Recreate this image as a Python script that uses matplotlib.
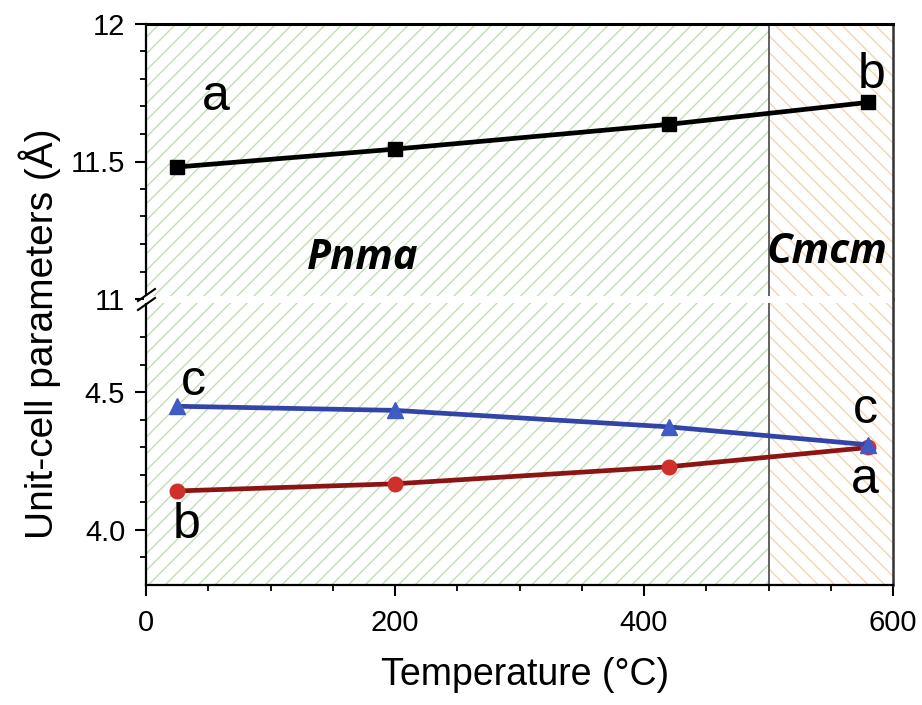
import matplotlib
matplotlib.use("Agg")
import matplotlib.pyplot as plt
from matplotlib.lines import Line2D
from matplotlib.patches import Rectangle
from matplotlib.ticker import FixedLocator, MultipleLocator

plt.rcParams['font.family'] = ['Liberation Sans', 'DejaVu Sans']
plt.rcParams['hatch.linewidth'] = 1.0

# lattice parameters vs temperature
temp = [25, 200, 420, 580]
cell_long = [11.48, 11.545, 11.635, 11.715]   # a (Pnma) -> b (Cmcm)
cell_c = [4.45, 4.435, 4.375, 4.31]
cell_short = [4.142, 4.168, 4.23, 4.30]        # b (Pnma) -> a (Cmcm)
phase_edge = 500

W, H = 922, 705
fig = plt.figure(figsize=(W / 100, H / 100), dpi=100)

def fx(px):
    return px / W

def fy(py):
    return 1 - py / H

left, right = 146, 893
y_top, y_brk, y_bot = 24, 299, 585
ax_t = fig.add_axes([fx(left), fy(y_brk), fx(right - left), fy(y_top) - fy(y_brk)])
ax_b = fig.add_axes([fx(left), fy(y_bot), fx(right - left), fy(y_brk) - fy(y_bot)])

green = '#c2ddb8'
orange = '#f3d5b6'
for ax in (ax_t, ax_b):
    ax.set_xlim(0, 600)
    ax.axvspan(0, phase_edge, facecolor='white', edgecolor=green, hatch='//', linewidth=0, zorder=0)
    ax.axvspan(phase_edge, 600, facecolor='white', edgecolor=orange, hatch='\\\\', linewidth=0, zorder=0)
    ax.axvline(phase_edge, color='#555555', lw=1.3, zorder=1)
    ax.spines['left'].set_linewidth(1.6)
    ax.spines['right'].set_linewidth(1.8)
    ax.spines['right'].set_color('#333333')
    ax.tick_params(axis='y', which='major', direction='out', length=8, width=1.5,
                   labelsize=21, pad=7, right=False)
    ax.tick_params(axis='y', which='minor', direction='out', length=4.5, width=1.3, right=False)

ax_t.set_ylim(11, 12)
ax_t.set_yticks([11, 11.5, 12])
ax_t.set_yticklabels(['11', '11.5', '12'])
ax_t.yaxis.set_minor_locator(MultipleLocator(0.1))
ax_t.spines['bottom'].set_visible(False)
ax_t.spines['top'].set_linewidth(2.2)
ax_t.tick_params(axis='x', which='both', bottom=False, top=False, labelbottom=False)

ax_b.set_ylim(3.8, 4.84)
ax_b.set_yticks([4.0, 4.5])
ax_b.set_yticklabels(['4.0', '4.5'])
ax_b.yaxis.set_minor_locator(FixedLocator([3.9, 4.1, 4.2, 4.3, 4.4, 4.6, 4.7]))
ax_b.spines['top'].set_visible(False)
ax_b.spines['bottom'].set_linewidth(1.6)
ax_b.set_xticks([0, 200, 400, 600])
ax_b.xaxis.set_minor_locator(MultipleLocator(50))
ax_b.tick_params(axis='x', which='major', direction='out', length=8, width=1.5,
                 labelsize=21, pad=9, top=False)
ax_b.tick_params(axis='x', which='minor', direction='out', length=4.5, width=1.3, top=False)

ax_t.plot(temp, cell_long, color='black', lw=3.4, marker='s', ms=10, zorder=3)
ax_b.plot(temp, cell_short, color='#8c1414', lw=3.4, marker='o', ms=10.5,
          markerfacecolor='#d0302c', markeredgecolor='#d0302c', zorder=3)
ax_b.plot(temp, cell_c, color='#3344a8', lw=3.4, marker='^', ms=11.5,
          markerfacecolor='#3f5bc4', markeredgecolor='#3f5bc4', zorder=3)

lab = dict(fontsize=36, ha='center', va='baseline', zorder=4)
ax_t.text(56, 11.686, 'a', **lab)
ax_t.text(583, 11.766, 'b', **lab)
ax_b.text(38, 4.49, 'c', **lab)
ax_b.text(33, 3.97, 'b', **lab)
ax_b.text(578, 4.39, 'c', **lab)
ax_b.text(577, 4.135, 'a', **lab)

phase = dict(fontsize=30, fontweight='bold', fontstyle='italic', ha='center', va='baseline',
             family=['Open Sans', 'DejaVu Sans'], zorder=4)
ax_t.text(174, 11.11, 'Pnma', **phase)
ax_t.text(547, 11.131, 'Cmcm', **phase)

# gap across the plot where the axis is broken
fig.patches.append(Rectangle((fx(left - 2), fy(y_brk + 4)), fx(right - 1 - left + 2), fy(y_brk - 3) - fy(y_brk + 4),
                             transform=fig.transFigure, facecolor='white', edgecolor='none', zorder=5))
for dy in (-4, 5):
    fig.lines.append(Line2D([fx(138), fx(155)], [fy(y_brk + dy + 6), fy(y_brk + dy - 6)],
                            transform=fig.transFigure, color='black', lw=1.5, zorder=6))

fig.text(fx(40), fy(334), 'Unit-cell parameters (Å)', fontsize=28, rotation=90,
         ha='center', va='center')
fig.text(fx(525), fy(685), 'Temperature (°C)', fontsize=27, ha='center', va='baseline')

fig.savefig('out.png', dpi=100)
